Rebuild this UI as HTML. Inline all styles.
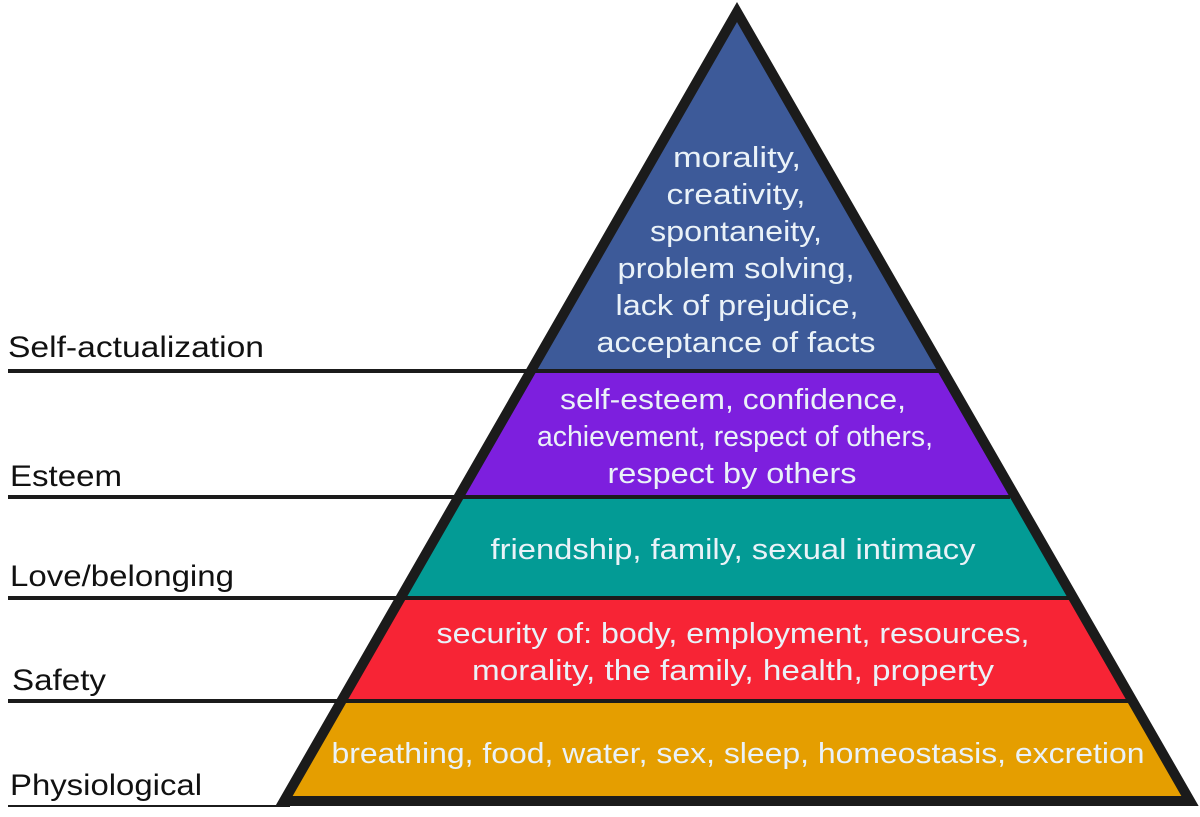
<!DOCTYPE html>
<html><head><meta charset="utf-8"><style>
html,body{margin:0;padding:0;background:#fff;width:1200px;height:817px;overflow:hidden}
</style></head><body>
<svg width="1200" height="817" viewBox="0 0 1200 817" xmlns="http://www.w3.org/2000/svg">
<defs><clipPath id="tri"><polygon points="737,12 284,801 1190,801"/></clipPath></defs>
<g clip-path="url(#tri)">
<rect x="0" y="0" width="1200" height="371" fill="#3d5a99"/>
<rect x="0" y="371" width="1200" height="126" fill="#7d1fde"/>
<rect x="0" y="497" width="1200" height="101" fill="#039b95"/>
<rect x="0" y="598" width="1200" height="103" fill="#f72435"/>
<rect x="0" y="701" width="1200" height="105" fill="#e59e00"/>
</g>
<g stroke="#1b1b1b" stroke-width="4">
<line x1="8" y1="371" x2="940" y2="371"/>
<line x1="8" y1="497" x2="1010" y2="497"/>
<line x1="8" y1="598" x2="1070" y2="598"/>
<line x1="8" y1="701" x2="1130" y2="701"/>
<line x1="8" y1="806" x2="290" y2="806" stroke-width="2"/>
</g>
<polygon points="737,12 284,801 1190,801" fill="none" stroke="#1b1b1b" stroke-width="10" stroke-linejoin="miter"/>
<g font-family="Liberation Sans, DejaVu Sans, sans-serif" font-size="29" fill="#eaf2f8" text-anchor="middle" lengthAdjust="spacingAndGlyphs">
<text x="737" y="167" textLength="128" lengthAdjust="spacingAndGlyphs">morality,</text>
<text x="736" y="204" textLength="139" lengthAdjust="spacingAndGlyphs">creativity,</text>
<text x="736" y="241" textLength="172" lengthAdjust="spacingAndGlyphs">spontaneity,</text>
<text x="736" y="278" textLength="237" lengthAdjust="spacingAndGlyphs">problem solving,</text>
<text x="737" y="315" textLength="243" lengthAdjust="spacingAndGlyphs">lack of prejudice,</text>
<text x="736" y="352" textLength="279" lengthAdjust="spacingAndGlyphs">acceptance of facts</text>
<text x="733" y="409" textLength="346" lengthAdjust="spacingAndGlyphs">self-esteem, confidence,</text>
<text x="735" y="446" textLength="396" lengthAdjust="spacingAndGlyphs">achievement, respect of others,</text>
<text x="732" y="483" textLength="249" lengthAdjust="spacingAndGlyphs">respect by others</text>
<text x="733" y="559" textLength="485" lengthAdjust="spacingAndGlyphs">friendship, family, sexual intimacy</text>
<text x="733" y="643" textLength="593" lengthAdjust="spacingAndGlyphs">security of: body, employment, resources,</text>
<text x="733" y="680" textLength="522" lengthAdjust="spacingAndGlyphs">morality, the family, health, property</text>
<text x="738" y="763" textLength="813" lengthAdjust="spacingAndGlyphs">breathing, food, water, sex, sleep, homeostasis, excretion</text>
</g>
<g font-family="Liberation Sans, DejaVu Sans, sans-serif" font-size="30" fill="#111">
<text x="8" y="357" textLength="256" lengthAdjust="spacingAndGlyphs">Self-actualization</text>
<text x="10" y="486" textLength="112" lengthAdjust="spacingAndGlyphs">Esteem</text>
<text x="10" y="586" textLength="224" lengthAdjust="spacingAndGlyphs">Love/belonging</text>
<text x="12" y="690" textLength="94" lengthAdjust="spacingAndGlyphs">Safety</text>
<text x="10" y="795" textLength="192" lengthAdjust="spacingAndGlyphs">Physiological</text>
</g>
</svg>
</body></html>
